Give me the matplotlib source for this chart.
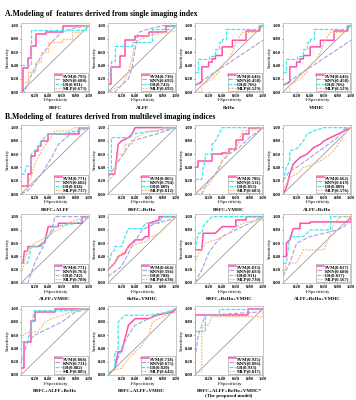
import matplotlib
matplotlib.use("Agg")
import matplotlib.pyplot as plt

# Panel titles (row by row)
titles = ["RSFC", "ALFF", "ReHo", "VMHC",
          "RSFC+ALFF", "RSFC+ReHo", "RSFC+VMHC", "ALFF+ReHo",
          "ALFF+VMHC", "ReHo+VMHC", "RSFC+ReHo+VMHC", "ALFF+ReHo+VMHC",
          "RSFC+ALFF+ReHo", "RSFC+ALFF+VMHC",
          "RSFC+ALFF+ReHo+VMHC*\n(The proposed model)"]

# AUC per model, same order as titles
svm_auc = [0.793, 0.736, 0.646, 0.646, 0.771, 0.865, 0.786, 0.662,
           0.771, 0.664, 0.813, 0.817, 0.868, 0.718, 0.925]
knn_auc = [0.688, 0.692, 0.458, 0.458, 0.602, 0.794, 0.531, 0.619,
           0.763, 0.596, 0.693, 0.680, 0.731, 0.675, 0.896]
lr_auc = [0.831, 0.742, 0.766, 0.766, 0.818, 0.809, 0.853, 0.809,
          0.742, 0.788, 0.911, 0.817, 0.882, 0.820, 0.933]
mlp_auc = [0.673, 0.692, 0.529, 0.529, 0.737, 0.812, 0.683, 0.576,
           0.780, 0.638, 0.730, 0.567, 0.805, 0.642, 0.817]

# ROC points (fpr, tpr)
rehoSVM = [(0, 0.1), (0.1, 0.15), (0.1, 0.38), (0.2, 0.38), (0.2, 0.45), (0.25, 0.45), (0.25, 0.5),
           (0.3, 0.5), (0.3, 0.55), (0.4, 0.55), (0.4, 0.68), (0.55, 0.68), (0.55, 0.78), (0.75, 0.78),
           (0.75, 0.92), (0.95, 0.92), (0.95, 1), (1, 1)]
rehoLR = [(0, 0.3), (0.05, 0.3), (0.05, 0.5), (0.2, 0.5), (0.2, 0.55), (0.3, 0.55), (0.3, 0.65),
          (0.35, 0.65), (0.35, 0.75), (0.4, 0.75), (0.4, 0.8), (0.45, 0.8), (0.45, 0.95),
          (0.95, 0.95), (0.95, 1), (1, 1)]
rehoKNN = [(0, 0.1), (0.5, 0.44), (1, 0.78)]
rehoMLP = [(0, 0), (0.1, 0), (0.1, 0.1), (0.25, 0.2), (0.35, 0.3), (0.4, 0.4), (0.5, 0.5),
           (0.55, 0.6), (0.6, 0.75), (0.7, 0.9), (0.9, 0.9), (0.95, 1), (1, 1)]

svm_pts = [
    [(0, 0), (0.03, 0), (0.03, 0.36), (0.1, 0.36), (0.1, 0.51), (0.15, 0.51), (0.15, 0.69),
     (0.22, 0.69), (0.22, 0.87), (0.37, 0.87), (0.37, 0.9), (0.62, 0.9), (0.62, 1), (1, 1)],
    [(0, 0.12), (0.05, 0.12), (0.05, 0.38), (0.18, 0.38), (0.18, 0.55), (0.25, 0.55), (0.25, 0.78),
     (0.4, 0.78), (0.4, 0.85), (0.6, 0.85), (0.6, 0.9), (0.85, 0.9), (0.85, 1), (1, 1)],
    rehoSVM, rehoSVM,
    [(0, 0.12), (0.1, 0.12), (0.1, 0.3), (0.15, 0.3), (0.15, 0.58), (0.2, 0.58), (0.2, 0.65),
     (0.25, 0.65), (0.25, 0.72), (0.3, 0.72), (0.3, 0.8), (0.4, 0.8), (0.4, 0.9), (0.85, 0.9),
     (0.85, 1), (1, 1)],
    [(0, 0.3), (0.1, 0.3), (0.15, 0.75), (0.2, 0.8), (0.3, 0.85), (0.35, 0.9), (0.4, 1), (1, 1)],
    [(0, 0.05), (0, 0.4), (0.05, 0.4), (0.05, 0.5), (0.25, 0.5), (0.25, 0.6), (0.4, 0.6),
     (0.4, 0.62), (0.5, 0.62), (0.5, 0.68), (0.6, 0.68), (0.6, 0.82), (0.7, 0.82), (0.7, 0.9),
     (0.8, 0.9), (0.8, 1), (1, 1)],
    [(0, 0), (0.05, 0.1), (0.1, 0.3), (0.15, 0.45), (0.2, 0.5), (0.25, 0.55), (0.35, 0.6),
     (0.45, 0.7), (0.55, 0.75), (0.6, 0.8), (0.7, 0.85), (0.8, 0.9), (0.9, 0.95), (1, 1)],
    [(0, 0.3), (0.03, 0.3), (0.05, 0.48), (0.1, 0.48), (0.1, 0.55), (0.25, 0.55), (0.35, 0.62),
     (0.4, 0.85), (0.55, 0.85), (0.55, 0.9), (0.9, 0.9), (0.9, 1), (1, 1)],
    [(0, 0.2), (0.05, 0.25), (0.1, 0.3), (0.15, 0.4), (0.25, 0.45), (0.3, 0.55), (0.4, 0.65),
     (0.5, 0.65), (0.55, 0.7), (0.6, 0.7), (0.6, 0.9), (0.75, 0.95), (0.75, 1), (1, 1)],
    [(0, 0.5), (0.1, 0.5), (0.12, 0.75), (0.3, 0.75), (0.4, 0.85), (0.6, 0.85), (0.6, 0.95),
     (0.75, 0.95), (0.75, 1), (1, 1)],
    [(0, 0.4), (0.05, 0.4), (0.05, 0.6), (0.1, 0.65), (0.15, 0.82), (0.25, 0.82), (0.25, 0.9),
     (0.4, 0.9), (0.4, 0.92), (1, 0.92), (1, 1)],
    [(0, 0.1), (0.05, 0.1), (0.05, 0.5), (0.15, 0.5), (0.15, 0.82), (0.2, 0.82), (0.2, 0.95),
     (0.5, 0.95), (0.5, 1), (1, 1)],
    [(0, 0), (0.1, 0.1), (0.15, 0.35), (0.2, 0.35), (0.25, 0.55), (0.3, 0.75), (0.35, 0.8),
     (0.4, 0.85), (0.6, 0.85), (0.7, 0.9), (0.95, 0.95), (1, 1)],
    [(0, 0), (0, 0.9), (0.78, 0.9), (0.78, 1), (1, 1)],
]

lr_pts = [
    [(0, 0.41), (0.15, 0.41), (0.15, 0.93), (0.95, 0.93), (0.95, 1), (1, 1)],
    [(0, 0), (0, 0.3), (0.05, 0.3), (0.05, 0.47), (0.1, 0.47), (0.1, 0.7), (0.35, 0.7),
     (0.35, 0.75), (0.65, 0.75), (0.65, 0.95), (0.9, 0.95), (0.9, 1), (1, 1)],
    rehoLR, rehoLR,
    [(0, 0.3), (0.05, 0.3), (0.08, 0.42), (0.15, 0.42), (0.15, 0.6), (0.25, 0.7), (0.3, 0.8),
     (0.35, 0.85), (0.4, 0.9), (0.6, 0.9), (0.8, 0.95), (1, 1)],
    [(0, 0.35), (0.05, 0.35), (0.05, 0.85), (0.35, 0.85), (0.35, 0.9), (0.45, 0.92),
     (0.7, 0.95), (1, 1)],
    [(0, 0.22), (0.1, 0.22), (0.12, 0.4), (0.15, 0.5), (0.15, 0.6), (0.25, 0.6), (0.25, 0.75),
     (0.3, 0.8), (0.35, 0.9), (0.4, 1), (1, 1)],
    [(0, 0.2), (0.05, 0.4), (0.1, 0.5), (0.1, 0.65), (0.2, 0.68), (0.3, 0.8), (0.35, 0.9),
     (0.45, 0.95), (0.6, 1), (1, 1)],
    [(0, 0.3), (0.1, 0.3), (0.15, 0.55), (0.3, 0.55), (0.35, 0.65), (0.45, 0.75), (0.5, 0.85),
     (0.8, 0.9), (1, 1)],
    [(0, 0.25), (0.05, 0.45), (0.1, 0.5), (0.1, 0.55), (0.2, 0.55), (0.25, 0.7), (0.3, 0.82),
     (0.5, 0.82), (0.55, 0.9), (0.75, 0.9), (0.8, 1), (1, 1)],
    [(0, 0.5), (0.05, 0.75), (0.1, 0.75), (0.12, 0.85), (0.2, 0.95), (0.25, 1), (1, 1)],
    [(0, 0.3), (0.05, 0.3), (0.1, 0.7), (0.3, 0.7), (0.4, 0.8), (0.7, 0.8), (0.7, 1), (1, 1)],
    [(0, 0.5), (0.1, 0.5), (0.15, 0.75), (0.2, 0.97), (0.85, 0.97), (0.9, 1), (1, 1)],
    [(0, 0), (0.1, 0.1), (0.1, 0.35), (0.15, 0.35), (0.15, 0.8), (0.25, 0.9), (0.6, 0.9),
     (0.9, 0.95), (1, 1)],
    [(0, 0.67), (0.15, 0.67), (0.15, 0.9), (0.35, 0.9), (0.35, 1), (1, 1)],
]

knn_pts = [
    [(0, 0), (0.05, 0), (0.15, 0.25), (0.3, 0.55), (0.45, 0.75), (0.6, 0.9), (0.8, 0.97), (1, 1)],
    [(0, 0), (0.1, 0), (0.3, 0.2), (0.35, 0.35), (0.4, 0.65), (0.45, 0.9), (0.6, 0.95),
     (0.8, 1), (1, 1)],
    rehoKNN, rehoKNN,
    [(0, 0), (0.1, 0.05), (0.3, 0.3), (0.45, 0.55), (0.55, 0.75), (0.7, 0.88), (0.85, 0.95), (1, 1)],
    [(0, 0.25), (0.35, 0.8), (0.7, 0.9), (1, 1)],
    [(0, 0), (0.1, 0), (0.2, 0.2), (0.3, 0.3), (0.4, 0.5), (0.5, 0.6), (0.65, 0.7), (0.8, 0.85), (1, 1)],
    [(0, 0.2), (0.1, 0.35), (0.2, 0.4), (0.4, 0.55), (0.6, 0.7), (0.8, 0.85), (0.9, 0.98), (1, 1)],
    [(0, 0), (0.1, 0), (0.2, 0.3), (0.35, 0.6), (0.45, 0.8), (0.5, 1), (1, 1)],
    [(0, 0.1), (0.2, 0.25), (0.35, 0.55), (0.5, 0.8), (0.7, 0.9), (0.9, 0.95), (1, 1)],
    [(0, 0), (0.1, 0.2), (0.2, 0.45), (0.3, 0.6), (0.4, 0.7), (0.6, 0.8), (0.8, 0.9), (1, 1)],
    [(0, 0.1), (0.1, 0.3), (0.2, 0.6), (0.4, 0.7), (0.6, 0.75), (0.8, 0.8), (0.9, 0.85), (1, 1)],
    [(0, 0.2), (0.1, 0.5), (0.2, 0.6), (0.4, 0.7), (0.6, 0.8), (0.8, 0.95), (1, 1)],
    [(0, 0), (0.1, 0.1), (0.2, 0.4), (0.3, 0.6), (0.4, 0.75), (0.6, 0.85), (0.8, 0.92), (1, 1)],
    [(0, 0.25), (0.05, 0.6), (0.15, 0.9), (0.95, 0.95), (1, 1)],
]

mlp_pts = [
    [(0, 0.15), (0.1, 0.15), (0.1, 0.3), (0.2, 0.3), (0.2, 0.45), (0.3, 0.45), (0.3, 0.6),
     (0.4, 0.6), (0.4, 0.75), (0.6, 0.75), (0.6, 0.8), (0.75, 0.8), (0.75, 0.9), (0.85, 0.9),
     (0.85, 1), (1, 1)],
    [(0, 0), (0.2, 0.1), (0.3, 0.3), (0.35, 0.5), (0.4, 0.75), (0.6, 0.85), (0.85, 0.9),
     (1, 0.92), (1, 1)],
    rehoMLP, rehoMLP,
    [(0, 0.1), (0.1, 0.15), (0.15, 0.25), (0.2, 0.45), (0.25, 0.55), (0.3, 0.65), (0.4, 0.8),
     (0.5, 0.95), (0.7, 0.95), (0.8, 1), (1, 1)],
    [(0, 0.2), (0.1, 0.3), (0.15, 0.6), (0.25, 0.6), (0.25, 0.75), (0.35, 0.75), (0.4, 0.85),
     (0.5, 0.9), (0.6, 0.95), (0.75, 0.95), (0.8, 1), (1, 1)],
    [(0, 0), (0.2, 0.15), (0.35, 0.35), (0.4, 0.5), (0.5, 0.65), (0.6, 0.7), (0.65, 0.8),
     (0.7, 0.95), (0.8, 0.95), (1, 1)],
    [(0, 0.05), (0.1, 0.25), (0.2, 0.3), (0.3, 0.4), (0.45, 0.45), (0.55, 0.5), (0.7, 0.6),
     (0.85, 0.8), (0.9, 0.9), (1, 1)],
    [(0, 0.15), (0.05, 0.3), (0.1, 0.5), (0.2, 0.6), (0.3, 0.65), (0.45, 0.75), (0.55, 0.8),
     (0.7, 0.9), (0.8, 0.95), (1, 1)],
    [(0, 0.2), (0.1, 0.3), (0.2, 0.45), (0.3, 0.52), (0.4, 0.58), (0.55, 0.62), (0.65, 0.7),
     (0.75, 0.75), (0.85, 0.85), (0.95, 0.95), (1, 1)],
    [(0, 0.3), (0.05, 0.45), (0.1, 0.5), (0.15, 0.6), (0.3, 0.65), (0.5, 0.75), (0.6, 0.85),
     (0.75, 0.92), (1, 0.95), (1, 1)],
    [(0, 0.1), (0.05, 0.3), (0.2, 0.3), (0.3, 0.5), (0.6, 0.5), (0.7, 0.75), (0.75, 0.9),
     (0.85, 1), (1, 1)],
    [(0, 0.55), (0.05, 0.62), (0.15, 0.65), (0.25, 0.65), (0.3, 0.72), (0.35, 0.8), (0.45, 0.85),
     (0.6, 0.9), (0.75, 0.95), (0.85, 1), (1, 1)],
    [(0, 0.05), (0.2, 0.1), (0.3, 0.25), (0.4, 0.35), (0.5, 0.45), (0.6, 0.6), (0.65, 0.8),
     (0.85, 0.9), (1, 0.95), (1, 1)],
    [(0, 0.05), (0.1, 0.05), (0.1, 0.7), (0.15, 0.75), (0.2, 0.75), (0.25, 0.88), (1, 0.88), (1, 1)],
]

# styles
styles = [("SVM", "#ff4fa6", "-", 1.1),
          ("KNN", "#a3a0e0", (0, (4, 1.5)), 0.8),
          ("LR", "#3de8f0", (0, (3, 1.2)), 0.9),
          ("MLP", "#ffb77a", (0, (1.5, 1)), 0.9)]

plt.rcParams['font.family'] = ['Liberation Serif', 'DejaVu Serif']
plt.rcParams['font.weight'] = 'bold'

W, H = 356, 400
fig = plt.figure(figsize=(W / 100, H / 100), dpi=100)

col_left = [21, 108, 195, 283]
row_top = [23, 125, 214, 306]
aw, ah = 68, 69

fig.text(5 / W, 1 - 14 / H, "A.Modeling of  features derived from single imaging index",
         fontsize=5.6, fontweight='bold', va='center', ha='left')
fig.text(5 / W, 1 - 117 / H, "B.Modeling of  features derived from multilevel imaging indices",
         fontsize=5.6, fontweight='bold', va='center', ha='left')

for i, title in enumerate(titles):
    r, c = divmod(i, 4)
    left = col_left[c]
    top = row_top[r]
    ax = fig.add_axes([left / W, 1 - (top + ah) / H, aw / W, ah / H])
    ax.plot([0, 1], [0, 1], color='#8a8a8a', lw=0.5)
    curves = [svm_pts[i], knn_pts[i], lr_pts[i], mlp_pts[i]]
    aucs = [svm_auc[i], knn_auc[i], lr_auc[i], mlp_auc[i]]
    for (name, col, ls, lw), pts, auc in zip(styles, curves, aucs):
        xs = [p[0] for p in pts]
        ys = [p[1] for p in pts]
        ax.plot(xs, ys, color=col, ls=ls, lw=lw, label="%s(%.3f)" % (name, auc))
    ax.set_xlim(0, 1.0)
    ax.set_ylim(0, 1.04)
    ax.set_xticks([0.2, 0.4, 0.6, 0.8, 1.0])
    ax.set_xticklabels(['0.20', '0.40', '0.60', '0.80', '1.00'])
    ax.set_yticks([0, 0.2, 0.4, 0.6, 0.8, 1.0])
    ax.set_yticklabels(['0.00', '0.20', '0.40', '0.60', '0.80', '1.00'])
    ax.tick_params(labelsize=3.3, length=1.0, width=0.4, pad=0.6)
    for sp in ax.spines.values():
        sp.set_color('#b0b0b0')
        sp.set_linewidth(0.5)
    ax.set_xlabel("1-Specificity", fontsize=3.5, labelpad=0.2)
    ax.set_ylabel("Sensitivity", fontsize=3.5, labelpad=0.5)
    leg = ax.legend(loc='lower right', fontsize=3.4, handlelength=1.5, handletextpad=0.3,
                    borderpad=0.15, labelspacing=0.0, borderaxespad=0.15, framealpha=1)
    leg.get_frame().set_linewidth(0.4)
    leg.get_frame().set_edgecolor('#909090')
    leg.get_frame().set_boxstyle('square', pad=0)
    ytitle = 1 - (top + ah + 14) / H
    fig.text((left + aw / 2) / W, ytitle, title, fontsize=3.6, fontweight='bold',
             ha='center', va='top', linespacing=1.3)

fig.savefig("out.png", dpi=100)
